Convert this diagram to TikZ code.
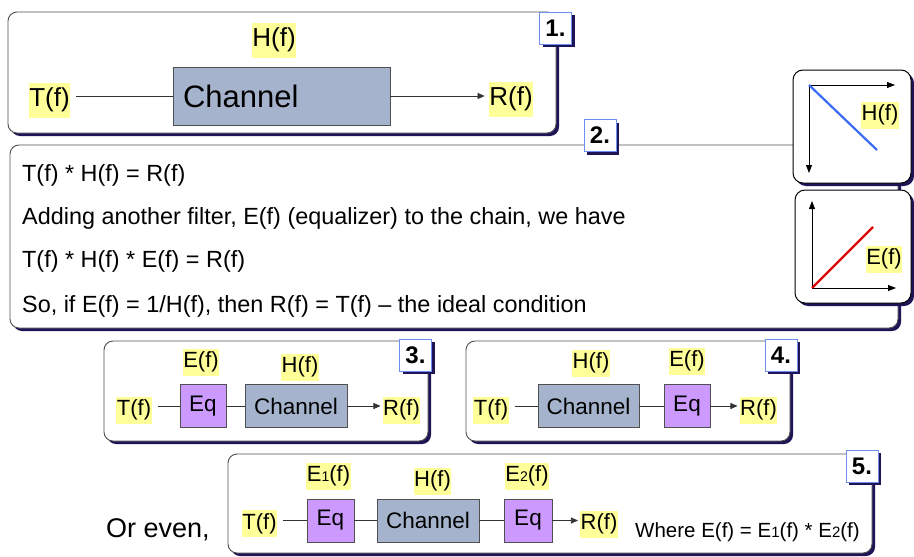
\documentclass[tikz,border=0pt]{standalone}
\usepackage{fontspec}
\setmainfont{Liberation Sans}
\usetikzlibrary{arrows.meta,shadows}
\definecolor{hl}{HTML}{FFFF99}
\definecolor{chanc}{HTML}{A5B4CC}
\definecolor{eqc}{HTML}{CC99FF}
\definecolor{navyc}{HTML}{1E1456}
\definecolor{numc}{HTML}{6E8EF0}
\definecolor{panelc}{HTML}{505050}
\definecolor{hblue}{HTML}{3A6BF5}
\definecolor{ered}{HTML}{DD0000}
\newcommand{\ssub}[1]{{\fontsize{14}{14}\selectfont #1}}
\begin{document}
\begin{tikzpicture}[x=1pt,y=-1pt,
  shad/.style={drop shadow={shadow xshift=3pt,shadow yshift=-3pt,fill=navyc,opacity=1}},
  panel/.style={draw=panelc,line width=0.9pt,rounded corners=9pt,fill=white,shad},
  plotbox/.style={draw=black,line width=1pt,rounded corners=10pt,fill=white,shad},
  num/.style={draw=numc,line width=0.9pt,fill=white,font=\bfseries\fontsize{24}{24}\selectfont,
    minimum width=32pt,minimum height=32pt,inner sep=0pt,shad},
  lab/.style={fill=hl,inner xsep=0.5pt,inner ysep=0pt,minimum height=27pt,font=\fontsize{22}{24}\selectfont},
  biglab/.style={fill=hl,inner xsep=0.5pt,inner ysep=0pt,minimum height=35pt,font=\fontsize{26}{28}\selectfont},
  txt/.style={anchor=base west,inner sep=0pt,font=\fontsize{23.4}{26}\selectfont},
  chanbox/.style={draw=panelc,line width=0.7pt,fill=chanc,inner sep=0pt,minimum height=43pt,font=\fontsize{22.5}{24}\selectfont},
  eqbox/.style={draw=panelc,line width=0.7pt,fill=eqc,inner sep=0pt,minimum height=43pt,font=\fontsize{22.5}{24}\selectfont},
  wire/.style={line width=0.7pt,draw=black!80},
  arr/.style={wire,-{Triangle[length=7pt,width=6pt]}},
  axis/.style={line width=0.8pt,-{Triangle[length=8pt,width=6pt]}}
]
\useasboundingbox (0,0) rectangle (914,557);

% ---------- Panel 1 ----------
\path[panel] (8,12) rectangle (556,133);
\node[num] (n1) at (555.5,28) {1.};
\node[biglab] (H1) at (274,40) {H(f)};
\node[chanbox,minimum height=58pt,text width=197pt,inner xsep=10pt,align=left,
  font=\fontsize{31}{34}\selectfont] (C1) at (281.5,96) {Channel};
\node[biglab] (T1) at (49.5,100) {T(f)};
\node[biglab] (R1) at (511,99) {R(f)};
\draw[wire,shorten <=6pt] (T1.east |- C1.west) -- (C1.west);
\draw[arr,shorten >=4pt] (C1.east) -- (R1.west |- C1.east);

% ---------- Panel 2 ----------
\path[panel] (10,145) rectangle (898,328);
\node[num] (n2) at (600,135.5) {2.};
\node[txt] (l1) at (22,181) {T(f) * H(f) = R(f)};
\node[txt] (l2) at (22,224) {Adding another filter, E(f) (equalizer) to the chain, we have};
\node[txt] (l3) at (22,267) {T(f) * H(f) * E(f) = R(f)};
\node[txt] (l4) at (22,312) {So, if E(f) = 1/H(f), then R(f) = T(f) -- the ideal condition};

% H(f) plot
\path[plotbox] (793,70) rectangle (911,183);
\coordinate (ho) at (809,85);
\coordinate (hx) at (895,85);
\coordinate (hy) at (809,173);
\coordinate (hl) at (877,150);
\draw[axis] (ho) -- (hx);
\draw[axis] (ho) -- (hy);
\draw[hblue,line width=2.2pt] (ho) -- (hl);
\node[lab] (Hp) at (880,115) {H(f)};

% E(f) plot
\path[plotbox] (795,190) rectangle (911,303);
\coordinate (eo) at (812,288);
\coordinate (ex) at (896,288);
\coordinate (ey) at (812,201);
\coordinate (el) at (873,227);
\draw[axis] (eo) -- (ex);
\draw[axis] (eo) -- (ey);
\draw[ered,line width=2.2pt] (eo) -- (el);
\node[lab] (Ep) at (884,259) {E(f)};

% ---------- Panel 3 ----------
\path[panel] (104,341) rectangle (428,441);
\node[num] (n3) at (415.5,355) {3.};
\node[lab] (E3) at (201,362) {E(f)};
\node[lab] (H3) at (300,367) {H(f)};
\node[eqbox,minimum width=46pt] (Q3) at (203,406) {Eq};
\node[chanbox,minimum width=102pt] (C3) at (296,406) {Channel};
\node[lab] (T3) at (134,410) {T(f)};
\node[lab] (R3) at (401.5,410) {R(f)};
\draw[wire,shorten <=6pt] (T3.east |- Q3.west) -- (Q3.west);
\draw[wire] (Q3) -- (C3);
\draw[arr,shorten >=2pt] (C3.east) -- (R3.west |- C3.east);

% ---------- Panel 4 ----------
\path[panel] (466,341) rectangle (790,441);
\node[num] (n4) at (781,355) {4.};
\node[lab] (H4) at (591,363) {H(f)};
\node[lab] (E4) at (687,361) {E(f)};
\node[chanbox,minimum width=101pt] (C4) at (588.5,406) {Channel};
\node[eqbox,minimum width=46pt] (Q4) at (687,406) {Eq};
\node[lab] (T4) at (491,410) {T(f)};
\node[lab] (R4) at (758.5,410) {R(f)};
\draw[wire,shorten <=6pt] (T4.east |- C4.west) -- (C4.west);
\draw[wire] (C4) -- (Q4);
\draw[arr,shorten >=2pt] (Q4.east) -- (R4.west |- Q4.east);

% ---------- Panel 5 ----------
\path[panel] (228,454) rectangle (872,553);
\node[num] (n5) at (862,466) {5.};
\node[lab] (E5a) at (328.5,476) {E\ssub{1}(f)};
\node[lab] (H5) at (432.5,481) {H(f)};
\node[lab] (E5b) at (527,476) {E\ssub{2}(f)};
\node[eqbox,minimum width=47pt] (Q5a) at (330.5,520.5) {Eq};
\node[chanbox,minimum width=102pt] (C5) at (428,520.5) {Channel};
\node[eqbox,minimum width=48pt] (Q5b) at (528,520.5) {Eq};
\node[lab] (T5) at (259.5,523.5) {T(f)};
\node[lab] (R5) at (599,524) {R(f)};
\draw[wire,shorten <=6pt] (T5.east |- Q5a.west) -- (Q5a.west);
\draw[wire] (Q5a) -- (C5);
\draw[wire] (C5) -- (Q5b);
\draw[arr,shorten >=2pt] (Q5b.east) -- (R5.west |- Q5b.east);
\node[anchor=base west,inner sep=0pt,font=\fontsize{20.5}{22}\selectfont] (W5) at (635,537)
  {Where E(f) = E{\fontsize{15}{15}\selectfont 1}(f) * E{\fontsize{15}{15}\selectfont 2}(f)};
\node[anchor=base west,inner sep=0pt,font=\fontsize{27}{30}\selectfont] (OE) at (106,537) {Or even,};
\end{tikzpicture}
\end{document}
